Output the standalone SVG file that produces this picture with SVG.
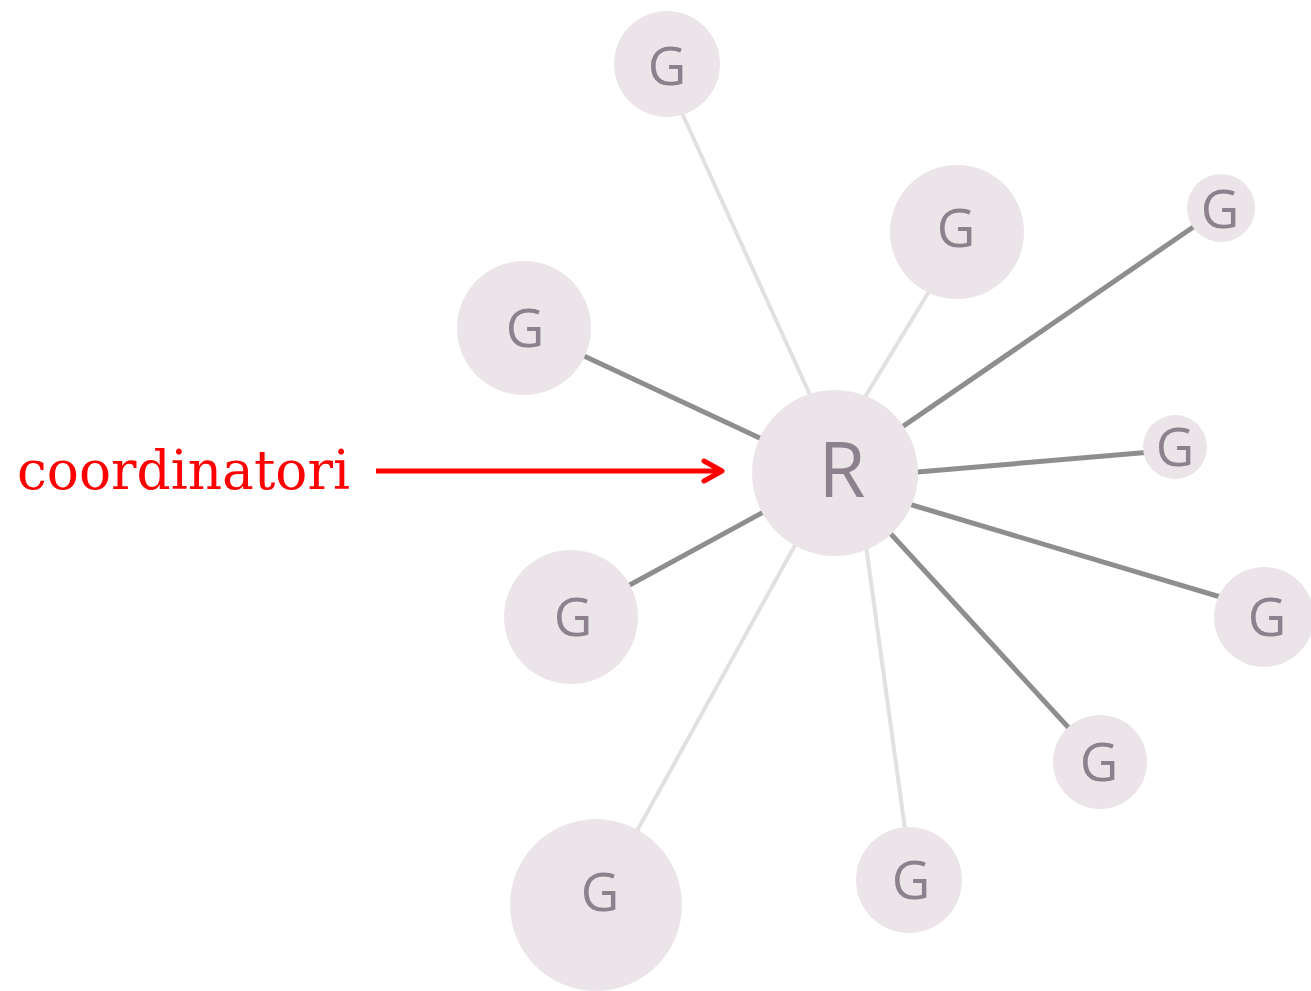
<svg xmlns="http://www.w3.org/2000/svg" width="1311" height="991" viewBox="0 0 1311 991">
<style>
.n{fill:#ebe5ea}
.t{font-family:"Open Sans","Liberation Sans",sans-serif;fill:#8c818c;text-anchor:middle}
.g{font-size:53px}
.dk{stroke:#8e8e8e;stroke-width:5}
.lt{stroke:#e2e0e2;stroke-width:4}
</style>
<defs>
<marker id="ah" viewBox="0 0 24 26" refX="21" refY="13" markerWidth="24" markerHeight="26" markerUnits="userSpaceOnUse" orient="auto">
<path d="M3,3 L21,13 L3,23" fill="none" stroke="#f00" stroke-width="5" stroke-linecap="round" stroke-linejoin="round"/>
</marker>
</defs>
<rect width="1311" height="991" fill="#fff"/>
<g id="connectors">
<line class="lt" x1="835" y1="450" x2="667" y2="80"/>
<line class="lt" x1="845" y1="430" x2="945" y2="265"/>
<line class="lt" x1="835" y1="473" x2="596" y2="905"/>
<line class="lt" x1="856" y1="473" x2="912" y2="880"/>
<line class="dk" x1="835" y1="473" x2="524" y2="328"/>
<line class="dk" x1="835" y1="473" x2="1221" y2="208"/>
<line class="dk" x1="835" y1="479" x2="1175" y2="450"/>
<line class="dk" x1="835" y1="482" x2="1264" y2="610"/>
<line class="dk" x1="835" y1="473" x2="1100" y2="762"/>
<line class="dk" x1="835" y1="473" x2="571" y2="617"/>
<line x1="376" y1="471" x2="722" y2="471" stroke="#f00" stroke-width="5" marker-end="url(#ah)"/>
</g>
<g id="R"><circle class="n" cx="835" cy="473" r="83"/><text class="t" x="842" y="497" font-size="76">R</text></g>
<g id="G1"><circle class="n" cx="667" cy="64" r="53"/><text class="t g" x="667" y="85">G</text></g>
<g id="G2"><circle class="n" cx="957" cy="232" r="67"/><text class="t g" x="956" y="247">G</text></g>
<g id="G3"><circle class="n" cx="1221" cy="208" r="34"/><text class="t g" x="1220" y="228">G</text></g>
<g id="G4"><circle class="n" cx="524" cy="328" r="67"/><text class="t g" x="525" y="347">G</text></g>
<g id="G5"><circle class="n" cx="1175" cy="447" r="32"/><text class="t g" x="1175" y="466">G</text></g>
<g id="G6"><circle class="n" cx="1264" cy="617" r="50"/><text class="t g" x="1267" y="636">G</text></g>
<g id="G7"><circle class="n" cx="571" cy="617" r="67"/><text class="t g" x="573" y="636">G</text></g>
<g id="G8"><circle class="n" cx="1100" cy="762" r="47"/><text class="t g" x="1099" y="781">G</text></g>
<g id="G9"><circle class="n" cx="909" cy="880" r="53"/><text class="t g" x="911" y="899">G</text></g>
<g id="G10"><circle class="n" cx="596" cy="905" r="86"/><text class="t g" x="600" y="911">G</text></g>
<g id="label"><text x="17" y="489" font-family="'DejaVu Serif','Liberation Serif',serif" font-size="54" fill="#f00" textLength="333" lengthAdjust="spacingAndGlyphs">coordinatori</text></g>
</svg>
